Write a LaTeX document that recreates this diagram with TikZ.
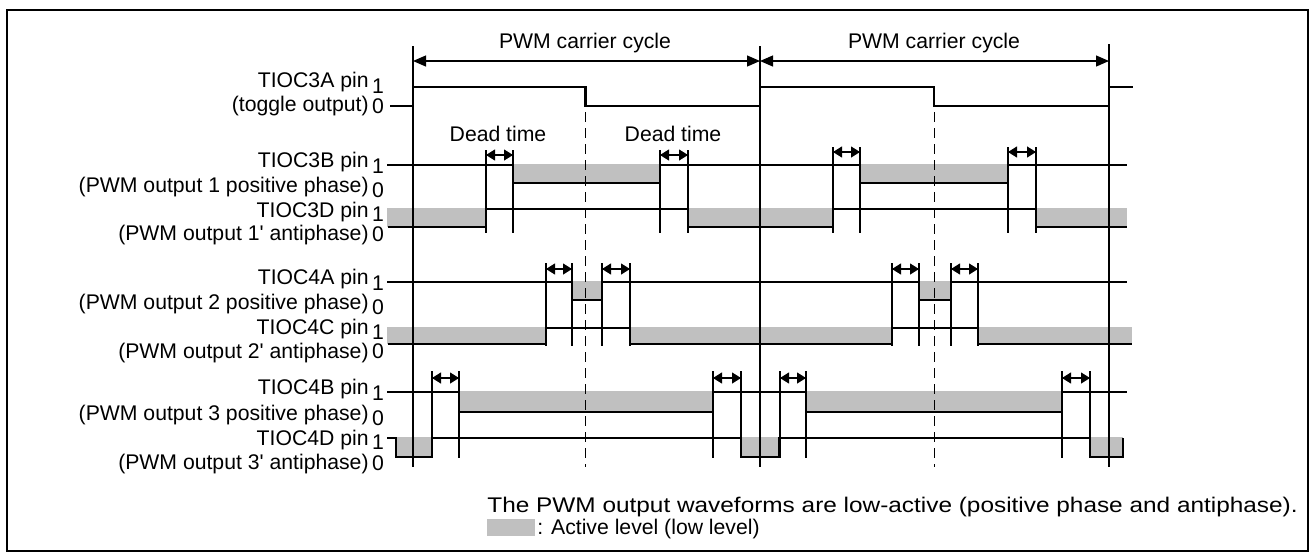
\documentclass[tikz,border=0pt]{standalone}
\usepackage{fontspec}
\usepackage{graphicx}
\setmainfont{Liberation Sans}
\usetikzlibrary{arrows.meta}
\definecolor{actgray}{HTML}{C0C0C0}
\newcommand{\apos}{\textquotesingle}
\begin{document}
\begin{tikzpicture}[x=0.5pt,y=-0.5pt,
  lbl/.style={font=\fontsize{10.6}{12}\selectfont, inner sep=0pt},
  wave/.style={line width=1.1pt, line join=miter},
  mark line/.style={line width=1.1pt},
  cyc/.style={line width=0.6pt, {Triangle[length=6.5pt,width=5.5pt]}-{Triangle[length=6.5pt,width=5.5pt]}},
  dt/.style={line width=0.6pt, {Triangle[length=4.5pt,width=5.5pt]}-{Triangle[length=4.5pt,width=5.5pt]}},
  ctr/.style={line width=0.5pt, dash pattern=on 5pt off 3pt},
  act/.style={fill=actgray, draw=none}]
\useasboundingbox (0,0) rectangle (1316,558);
\draw[line width=1pt] (7,10) rectangle (1308,551);

% gray active areas
\fill[act] (513,163.5) rectangle (660,183);
\fill[act] (860,163.5) rectangle (1008,183);
\fill[act] (387,207.5) rectangle (486,227);
\fill[act] (688,207.5) rectangle (833,227);
\fill[act] (1036,207.5) rectangle (1127,227);
\fill[act] (572,280.5) rectangle (602,300);
\fill[act] (919,280.5) rectangle (951,300);
\fill[act] (387,326.5) rectangle (546,344);
\fill[act] (630,326.5) rectangle (892,344);
\fill[act] (978,326.5) rectangle (1132,344);
\fill[act] (459,390.5) rectangle (713,412);
\fill[act] (806,390.5) rectangle (1062,412);
\fill[act] (396,436.5) rectangle (432,457);
\fill[act] (741,436.5) rectangle (779,457);
\fill[act] (1090,436.5) rectangle (1123,457);

% carrier cycle boundaries and centre lines
\coordinate (c1t) at (413,46); \coordinate (c1b) at (413,467);
\coordinate (c2t) at (760,46); \coordinate (c2b) at (760,467);
\coordinate (c3t) at (1109,44); \coordinate (c3b) at (1109,467);
\draw[mark line] (c1t) -- (c1b);
\draw[mark line] (c2t) -- (c2b);
\draw[mark line] (c3t) -- (c3b);
\coordinate (m1t) at (585.5,112); \coordinate (m1b) at (585.5,467);
\coordinate (m2t) at (934,112); \coordinate (m2b) at (934,467);
\draw[ctr] (m1t) -- (m1b);
\draw[ctr] (m2t) -- (m2b);

\coordinate (a1l) at (413,61); \coordinate (a1r) at (760,61);
\coordinate (a2l) at (760,61); \coordinate (a2r) at (1109,61);
\draw[cyc] (a1l) -- (a1r);
\draw[cyc] (a2l) -- (a2r);
\node[lbl] (pc1) at (585,43) {PWM carrier cycle};
\node[lbl] (pc2) at (934,43) {PWM carrier cycle};

% dead time markers
\foreach \x in {486,513,660,688} \draw[mark line] (\x,150) -- (\x,233);
\foreach \x in {833,860,1008,1036} \draw[mark line] (\x,147) -- (\x,233);
\foreach \x in {546,572,602,630,892,919,951,978} \draw[mark line] (\x,263) -- (\x,346);
\foreach \x in {432,459,713,741,780,806,1062,1090} \draw[mark line] (\x,371) -- (\x,458);
\draw[dt] (486,155) -- (513,155);
\draw[dt] (660,155) -- (688,155);
\draw[dt] (833,152) -- (860,152);
\draw[dt] (1008,152) -- (1036,152);
\foreach \a/\b in {546/572,602/630,892/919,951/978} \draw[dt] (\a,269) -- (\b,269);
\foreach \a/\b in {432/459,713/741,780/806,1062/1090} \draw[dt] (\a,378) -- (\b,378);
\node[lbl] (dt1) at (498,134) {Dead time};
\node[lbl] (dt2) at (673,134) {Dead time};

% waveforms
\draw[wave] (390,106) -- (413,106) -- (413,87) -- (585.5,87) -- (585.5,106) -- (760,106) -- (760,87) -- (934,87) -- (934,106) -- (1109,106) -- (1109,87) -- (1133,87);
\draw[wave] (387,165) -- (513,165) -- (513,183) -- (660,183) -- (660,165) -- (860,165) -- (860,183) -- (1008,183) -- (1008,165) -- (1127,165);
\draw[wave] (388,227) -- (486,227) -- (486,209) -- (688,209) -- (688,227) -- (833,227) -- (833,209) -- (1036,209) -- (1036,227) -- (1127,227);
\draw[wave] (387,282) -- (572,282) -- (572,300) -- (602,300) -- (602,282) -- (919,282) -- (919,300) -- (951,300) -- (951,282) -- (1127,282);
\draw[wave] (388,344) -- (546,344) -- (546,328) -- (630,328) -- (630,344) -- (892,344) -- (892,328) -- (978,328) -- (978,344) -- (1132,344);
\draw[wave] (387,392) -- (459,392) -- (459,412) -- (713,412) -- (713,392) -- (806,392) -- (806,412) -- (1062,412) -- (1062,392) -- (1127,392);
\draw[wave] (387,438) -- (396,438) -- (396,457) -- (432,457) -- (432,438) -- (741,438) -- (741,457) -- (779,457) -- (779,438) -- (1090,438) -- (1090,457) -- (1123,457) -- (1123,438);

% labels
\node[lbl, anchor=base east] (n3a) at (369,87) {TIOC3A pin};
\node[lbl, anchor=base] (n3a1) at (378,93) {1};
\node[lbl, anchor=base east] (t3a) at (369,111) {(toggle output)};
\node[lbl, anchor=base] (t3a0) at (378,113) {0};

\node[lbl, anchor=base east] (n3b) at (369,167) {TIOC3B pin};
\node[lbl, anchor=base] (n3b1) at (378,173) {1};
\node[lbl, anchor=base east] (t3b) at (369,192) {(PWM output 1 positive phase)};
\node[lbl, anchor=base] (t3b0) at (378,197) {0};
\node[lbl, anchor=base east] (n3d) at (369,217) {TIOC3D pin};
\node[lbl, anchor=base] (n3d1) at (378,221) {1};
\node[lbl, anchor=base east] (t3d) at (369,240) {(PWM output 1\apos{} antiphase)};
\node[lbl, anchor=base] (t3d0) at (378,241) {0};

\node[lbl, anchor=base east] (n4a) at (369,284) {TIOC4A pin};
\node[lbl, anchor=base] (n4a1) at (378,290) {1};
\node[lbl, anchor=base east] (t4a) at (369,309) {(PWM output 2 positive phase)};
\node[lbl, anchor=base] (t4a0) at (378,314) {0};
\node[lbl, anchor=base east] (n4c) at (369,334) {TIOC4C pin};
\node[lbl, anchor=base] (n4c1) at (378,339) {1};
\node[lbl, anchor=base east] (t4c) at (369,358) {(PWM output 2\apos{} antiphase)};
\node[lbl, anchor=base] (t4c0) at (378,358) {0};

\node[lbl, anchor=base east] (n4b) at (369,394) {TIOC4B pin};
\node[lbl, anchor=base] (n4b1) at (378,400) {1};
\node[lbl, anchor=base east] (t4b) at (369,420) {(PWM output 3 positive phase)};
\node[lbl, anchor=base] (t4b0) at (378,425) {0};
\node[lbl, anchor=base east] (n4d) at (369,445) {TIOC4D pin};
\node[lbl, anchor=base] (n4d1) at (378,449) {1};
\node[lbl, anchor=base east] (t4d) at (369,469) {(PWM output 3\apos{} antiphase)};
\node[lbl, anchor=base] (t4d0) at (378,470) {0};

% legend
\node[lbl, anchor=base west] (leg1) at (487,512) {\scalebox{1.15}[1]{The PWM output waveforms are low-active (positive phase and antiphase).}};
\fill[act] (487,519) rectangle (535,536);
\node[lbl, anchor=base west] (leg2) at (537,534) {: Active level (low level)};
\end{tikzpicture}
\end{document}
